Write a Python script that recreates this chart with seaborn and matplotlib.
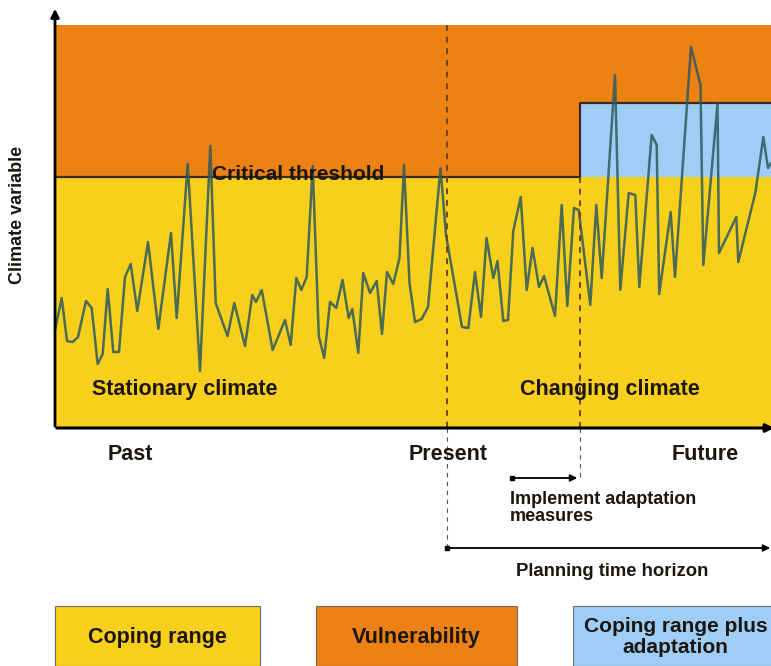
import numpy as np
import pandas as pd
import seaborn as sns
import matplotlib.pyplot as plt
from matplotlib.patches import Rectangle

# climate variable series (time and value in arbitrary units)
tiempo = [0, 6.7, 12, 17.7, 23, 31, 36.7, 42.7, 47.7, 52.7, 58.3, 64, 70, 75.7, 82.3, 93,
          103.3, 116, 121.7, 132.7, 145, 155.3, 160.7, 172.5, 179.3, 190, 197.3, 201,
          206.7, 217.7, 230, 235.7, 241.3, 246.3, 251.7, 257.7, 263.8, 269.2, 275, 281.3,
          287.5, 293.7, 297.3, 303.3, 308.3, 315, 321.7, 327, 332, 338.3, 344.5, 349,
          354.5, 360, 366.7, 373, 385.5, 391, 407, 413.3, 420, 426, 431.5, 438.3, 442.5,
          448.3, 453, 458.3, 465.7, 471.7, 477.5, 484, 489, 500, 506.7, 512.3, 519, 523.7,
          535.3, 541.3, 546.7, 560, 565.3, 573.7, 580.3, 584.3, 596.7, 601.7, 604.2,
          615.7, 620, 636, 645.5, 648.3, 662.5, 664, 681.3, 683.3, 700.5, 708.3, 713, 716]
valor = [98, 130, 87, 86, 91, 127, 120, 64, 74, 139, 76, 76, 151, 164, 117, 186,
         99, 195, 110, 264, 57, 282, 125, 92, 125, 82, 133, 126,
         138, 78, 108, 83, 150, 138, 151, 262, 92, 70, 126, 120,
         148, 110, 119, 75, 155, 135, 147, 94, 156, 144, 170, 263,
         145, 106, 109, 121, 260, 193, 101, 100, 156, 111, 190, 150, 167,
         107, 108, 197, 231, 138, 180, 141, 152, 112, 223, 122, 220, 218,
         123, 223, 150, 353, 138, 235, 233, 141, 293, 283, 134,
         216, 151, 381, 343, 163, 324, 175, 211, 166, 236, 291, 260, 265]

# zones of the diagram
t_presente = 392
t_adaptacion = 525
t_fin = 716
umbral = 251
umbral_adaptado = 325
techo = 403
y_max = 420

amarillo = '#F8D01C'
naranja = '#EC8114'
azul = '#9ECEF6'
texto = '#1c1610'

datos = pd.DataFrame({'tiempo': tiempo, 'valor': valor})

sns.set_style('white')
plt.rcParams['font.family'] = ['Liberation Sans', 'DejaVu Sans']

fig = plt.figure(figsize=(7.71, 6.66), dpi=100)
ax = fig.add_axes([55 / 771, 238 / 666, 716 / 771, 420 / 666])
ax.set_xlim(0, t_fin)
ax.set_ylim(0, y_max)
for s in ax.spines.values():
    s.set_visible(False)
ax.set_xticks([])
ax.set_yticks([])

# zonas de color
ax.fill_between([0, t_fin], 0, umbral, color=amarillo, lw=0)
ax.fill_between([0, t_adaptacion], umbral, techo, color=naranja, lw=0)
ax.fill_between([t_adaptacion, t_fin], umbral, umbral_adaptado, color=azul, lw=0)
ax.fill_between([t_adaptacion, t_fin], umbral_adaptado, techo, color=naranja, lw=0)

# umbral critico (escalon)
ax.plot([0, t_adaptacion, t_adaptacion, t_fin], [umbral, umbral, umbral_adaptado, umbral_adaptado],
        color='#3a2a1e', lw=1.6)

# serie climatica
sns.lineplot(data=datos, x='tiempo', y='valor', ax=ax, color='#2d5a5e', alpha=0.85, lw=1.8)
ax.set_xlabel('')
ax.set_ylabel('')

# lineas punteadas
ax.plot([t_presente, t_presente], [techo, 0], color='#6e4518', lw=1.4, ls=(0, (3, 3)))
ax.plot([t_adaptacion, t_adaptacion], [umbral, 0], color='#6e4518', lw=1.4, ls=(0, (3, 3)))
ax.plot([t_presente, t_presente], [0, -120], color='#555555', lw=0.8, ls=(0, (4, 4)), clip_on=False)
ax.plot([t_adaptacion, t_adaptacion], [0, -50], color='#555555', lw=0.8, ls=(0, (4, 4)), clip_on=False)

# ejes con flechas
ax.annotate('', xy=(0, y_max + 2), xytext=(0, -1), annotation_clip=False,
            arrowprops=dict(arrowstyle='-|>', color='black', lw=2, mutation_scale=12))
ax.annotate('', xy=(t_fin + 6, 0), xytext=(-1, 0), annotation_clip=False,
            arrowprops=dict(arrowstyle='-|>', color='black', lw=2.2, mutation_scale=12))

# textos del grafico
ax.text(-37, 213, 'Climate variable', rotation=90, ha='center', va='center',
        fontsize=13, fontweight='bold', color=texto, clip_on=False)
ax.text(157, 254, 'Critical threshold', ha='left', va='center', fontsize=15,
        fontweight='bold', color=texto)
ax.text(130, 39, 'Stationary climate', ha='center', va='center', fontsize=15.5,
        fontweight='bold', color=texto)
ax.text(555, 39, 'Changing climate', ha='center', va='center', fontsize=15.5,
        fontweight='bold', color=texto)

for t, etiqueta in [(75, 'Past'), (393, 'Present'), (650, 'Future')]:
    ax.text(t, -26, etiqueta, ha='center', va='center', fontsize=15.5, fontweight='bold',
            color=texto, clip_on=False)

# flechas de planificacion
ax.annotate('', xy=(t_adaptacion, -50), xytext=(457, -50), annotation_clip=False,
            arrowprops=dict(arrowstyle='-|>', color='black', lw=1.3, mutation_scale=10))
ax.plot([457], [-50], marker='s', ms=3.5, color='black', clip_on=False)
ax.text(455, -80, 'Implement adaptation\nmeasures', ha='left', va='center', fontsize=13,
        fontweight='bold', color=texto, linespacing=1.0, clip_on=False)

ax.annotate('', xy=(t_fin + 2, -120), xytext=(t_presente, -120), annotation_clip=False,
            arrowprops=dict(arrowstyle='-|>', color='black', lw=1.3, mutation_scale=10))
ax.plot([t_presente], [-120], marker='s', ms=3.5, color='black', clip_on=False)
ax.text(557, -144, 'Planning time horizon', ha='center', va='center', fontsize=13.3,
        fontweight='bold', color=texto, clip_on=False)

# leyenda en cajas
cajas = [(0, 205, amarillo, 'Coping range', 15.5),
         (261, 201, naranja, 'Vulnerability', 15.5),
         (518, 205, azul, 'Coping range plus\nadaptation', 15)]
for x0, ancho, color, etiqueta, tam in cajas:
    ax.add_patch(Rectangle((x0, -238), ancho, 60, facecolor=color, edgecolor='#6b6b6b',
                           lw=0.8, clip_on=False))
    ax.text(x0 + ancho / 2, -209, etiqueta, ha='center', va='center', fontsize=tam,
            fontweight='bold', color=texto, linespacing=1.15, clip_on=False)

plt.savefig('out.png', dpi=100)
